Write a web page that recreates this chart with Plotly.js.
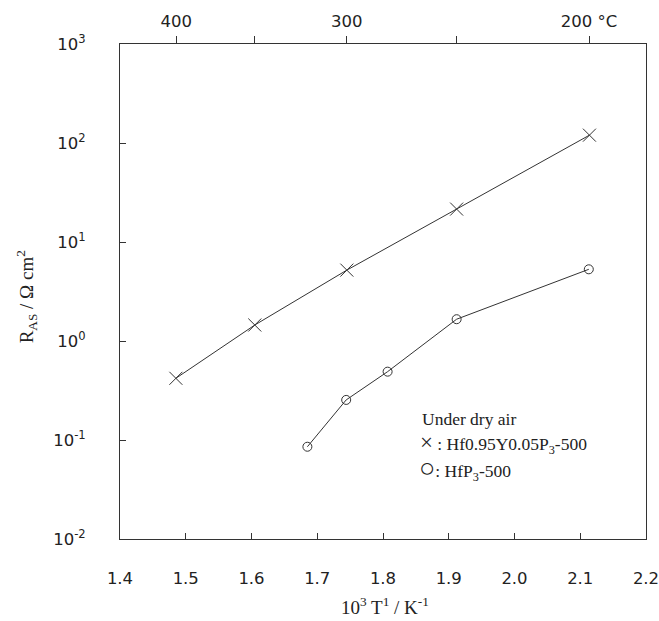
<!DOCTYPE html>
<html>
<head>
<meta charset="utf-8">
<script src="https://cdn.plot.ly/plotly-3.0.1.min.js"></script>
<style>html,body{margin:0;padding:0;background:#fff;}#chart{width:659px;height:621px;}</style>
</head>
<body>
<div id="chart"></div>
<script>
// Hf0.95Y0.05P3-500 (crosses)
const xCross = [1.485, 1.605, 1.745, 1.912, 2.114];
const yCross = [0.42, 1.45, 5.2, 21.5, 120];
// HfP3-500 (circles)
const xCircle = [1.685, 1.744, 1.807, 1.912, 2.113];
const yCircle = [0.0855, 0.254, 0.49, 1.66, 5.3];

const xTickVals = [1.4, 1.5, 1.6, 1.7, 1.8, 1.9, 2.0, 2.1, 2.2];
const xTickText = ["1.4", "1.5", "1.6", "1.7", "1.8", "1.9", "2.0", "2.1", "2.2"];
const yTickVals = [0.01, 0.1, 1, 10, 100, 1000];
const yTickText = ["10<sup>-2</sup>", "10<sup>-1</sup>", "10<sup>0</sup>", "10<sup>1</sup>", "10<sup>2</sup>", "10<sup>3</sup>"];
const topTempsC = [400, 350, 300, 250, 200];
const topTickText = ["400", "", "300", "", "200 °C"];
const topTickVals = topTempsC.map(t => 1000 / (t + 273.15));

const lineCol = "#333";
const tickFont = {family: "DejaVu Sans, sans-serif", size: 16.5, color: "#222"};
const serif = "Liberation Serif, Times New Roman, serif";
const legFont = {family: serif, size: 17.5, color: "#222"};

const traces = [
  {x: xCross, y: yCross, type: "scatter", mode: "lines+markers",
   line: {color: lineCol, width: 1},
   marker: {symbol: "x-thin-open", size: 13, line: {color: lineCol, width: 1}},
   xaxis: "x", yaxis: "y", showlegend: false},
  {x: xCircle, y: yCircle, type: "scatter", mode: "lines+markers",
   line: {color: lineCol, width: 1},
   marker: {symbol: "circle-open", size: 9, color: lineCol, line: {color: lineCol, width: 1}},
   xaxis: "x", yaxis: "y", showlegend: false},
  {x: [1.4, 2.2], y: [1, 1], type: "scatter", mode: "none", xaxis: "x2", yaxis: "y",
   showlegend: false, hoverinfo: "skip"}
];

const layout = {
  width: 659, height: 621,
  margin: {l: 120, r: 13, t: 44, b: 82},
  paper_bgcolor: "#fff", plot_bgcolor: "#fff",
  showlegend: false,
  xaxis: {
    range: [1.4, 2.2], tickvals: xTickVals, ticktext: xTickText,
    ticks: "inside", ticklen: 6, tickcolor: lineCol, tickwidth: 1,
    showline: true, linecolor: lineCol, linewidth: 1, mirror: false,
    showgrid: false, zeroline: false, tickfont: tickFont, ticklabelstandoff: 24,
    ticklabeloverflow: "allow"
  },
  xaxis2: {
    range: [1.4, 2.2], overlaying: "x", side: "top", anchor: "y",
    tickvals: topTickVals, ticktext: topTickText,
    ticks: "outside", ticklen: 7, tickcolor: lineCol, tickwidth: 1,
    showline: true, linecolor: lineCol, linewidth: 1,
    showgrid: false, zeroline: false, tickfont: tickFont, ticklabelstandoff: 2,
    ticklabeloverflow: "allow"
  },
  yaxis: {
    type: "log", range: [-2, 3], tickvals: yTickVals, ticktext: yTickText,
    ticks: "inside", ticklen: 6, tickcolor: lineCol, tickwidth: 1,
    showline: true, linecolor: lineCol, linewidth: 1, mirror: true,
    showgrid: false, zeroline: false, tickfont: tickFont, ticklabelstandoff: 30,
    ticklabeloverflow: "allow"
  },
  annotations: [
    {xref: "paper", yref: "paper", x: -0.177, y: 0.49, xanchor: "center", yanchor: "middle", showarrow: false,
     textangle: -90, text: "R<sub>AS</sub> / Ω cm<sup>2</sup>", font: {family: serif, size: 19, color: "#222"}},
    {xref: "paper", yref: "paper", x: 0.504, y: -0.136, xanchor: "center", yanchor: "middle", showarrow: false,
     text: "10<sup>3</sup> T<sup>1</sup> / K<sup>-1</sup>", font: {family: serif, size: 19, color: "#222"}},
    {xref: "paper", yref: "paper", x: 0.57, y: 0.242, xanchor: "left", yanchor: "middle", showarrow: false,
     text: "Under dry air", font: legFont},
    {xref: "paper", yref: "paper", x: 0.567, y: 0.192, xanchor: "left", yanchor: "middle", showarrow: false,
     text: "<span style='font-size:23px'>×</span> : Hf0.95Y0.05P<sub>3</sub>-500", font: legFont},
    {xref: "paper", yref: "paper", x: 0.565, y: 0.143, xanchor: "left", yanchor: "middle", showarrow: false,
     text: "<span style='font-size:27px'>○</span>: HfP<sub>3</sub>-500", font: legFont}
  ]
};

Plotly.newPlot("chart", traces, layout, {displayModeBar: false, staticPlot: true});
</script>
</body>
</html>
